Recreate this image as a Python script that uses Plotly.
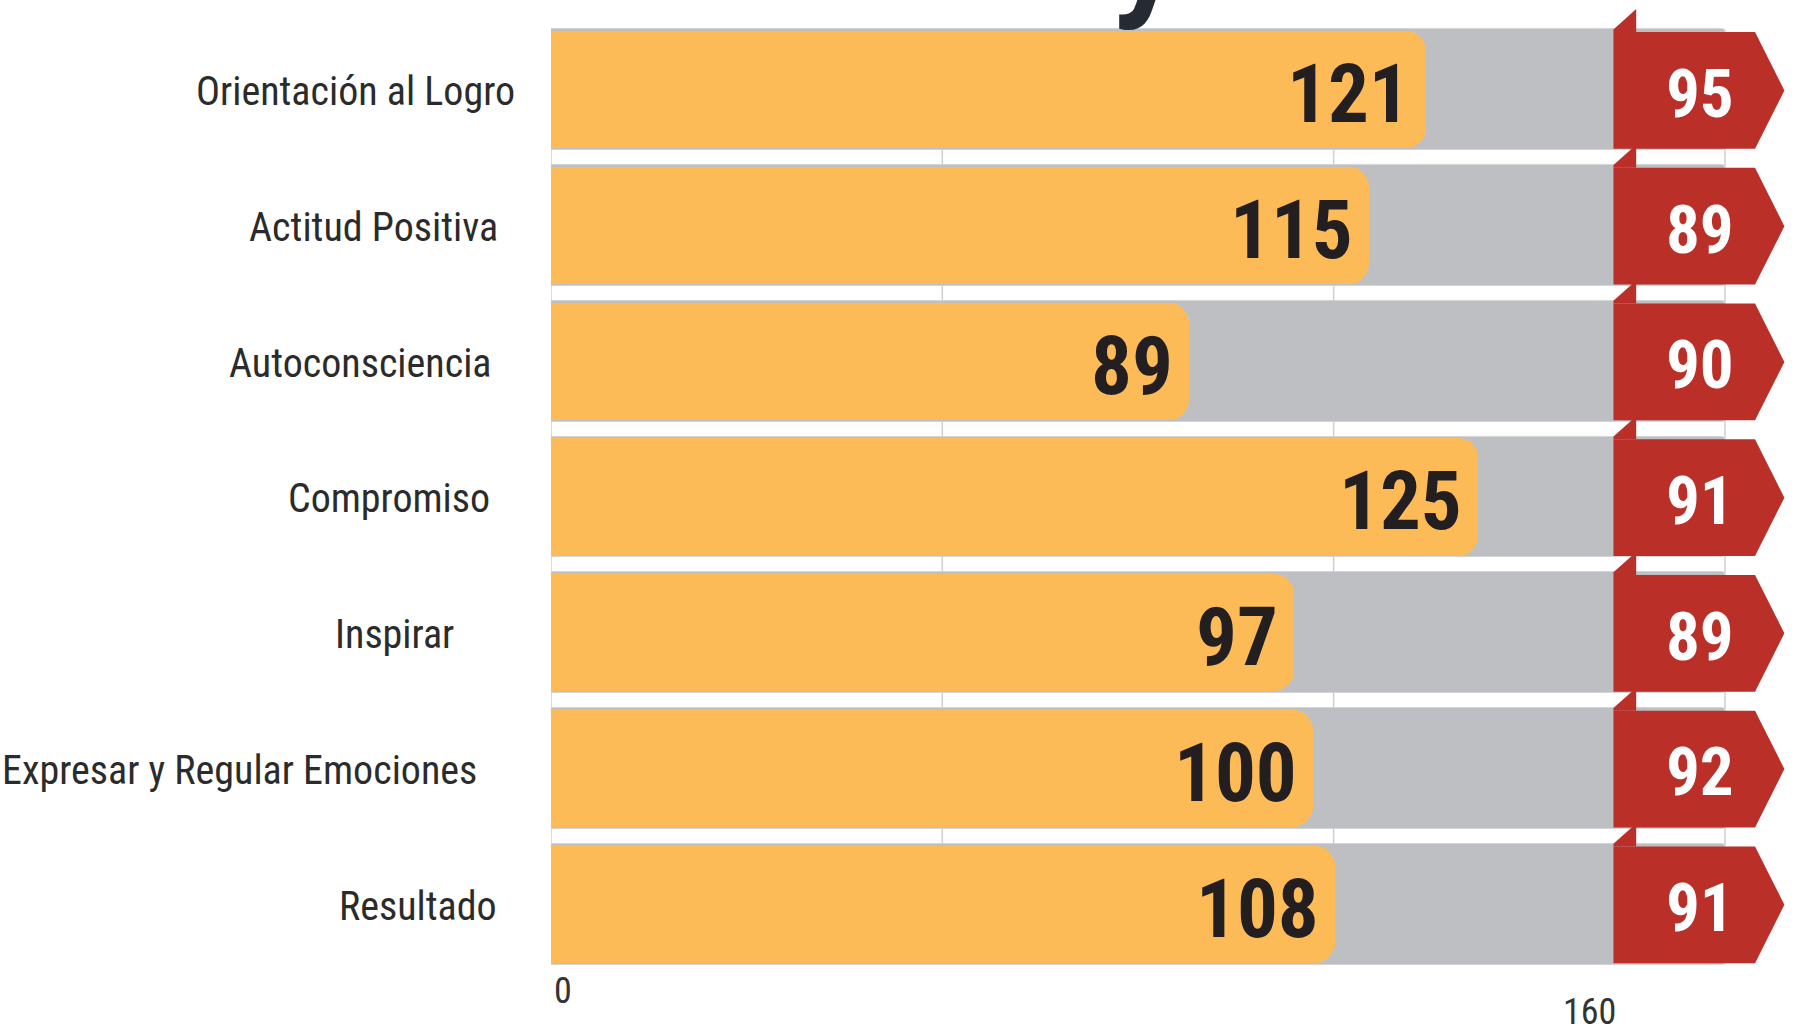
import plotly.graph_objects as go

# ---------------- data ----------------
categories = [
    "Orientación al Logro",
    "Actitud Positiva",
    "Autoconsciencia",
    "Compromiso",
    "Inspirar",
    "Expresar y Regular Emociones",
    "Resultado",
]
scores = [121, 115, 89, 125, 97, 100, 108]              # printed values
bar_lengths = [119.2, 111.5, 87.0, 126.3, 101.2, 103.9, 106.9]  # bar lengths
benchmark = [95, 89, 90, 91, 89, 92, 91]
scale_max = 160
axis_labels = ["0", "160"]
title_fragment = "y"

# ---------------- style ----------------
FONT = "'Roboto Condensed', 'DejaVu Sans Condensed', sans-serif"
ORANGE = "#FDBB58"
GRAY = "#BEBFC2"
RED = "#BA3028"
DARK = "#231F20"
GRID = "#CFCFCF"
label_pad = [0, 17, 24, 25, 61, 38, 18]   # extra right padding of category labels (px)

W, H = 1794, 1030
M_L, M_R, M_T, M_B = 551, 3, 4, 58
X_RANGE = [0, 169]
Y_RANGE = [6.5, -0.632]

n = len(categories)
ypos = list(range(n))

fig = go.Figure()

# background (full scale) bars on the base x axis
fig.add_trace(go.Bar(
    y=ypos, x=[scale_max] * n, orientation="h", width=0.89,
    marker=dict(color=GRAY, cornerradius=3, line=dict(color="#D3D4D6", width=1)),
    hoverinfo="skip", showlegend=False, xaxis="x",
))
# score bars on an overlaying twin axis (so they are rounded independently)
fig.add_trace(go.Bar(
    y=ypos, x=bar_lengths, orientation="h", width=0.864,
    marker=dict(color=ORANGE, cornerradius=20, line=dict(width=0)),
    customdata=scores,
    hovertemplate="%{customdata}<extra></extra>",
    showlegend=False, xaxis="x2",
))

shapes = []
# vertical grid lines (behind bars)
step = scale_max / 3
for k in range(4):
    gx = k * step
    shapes.append(dict(type="line", xref="x", yref="y", x0=gx, x1=gx,
                       y0=-0.445, y1=n - 1 + 0.445, layer="below",
                       line=dict(color=GRID, width=1.5)))

# red benchmark tags
bx0, bxf, bx1, bxt = 144.8, 147.9, 164.1, 168.1
for i in ypos:
    top, bot, mid = i - 0.425, i + 0.435, i + 0.005
    shapes.append(dict(
        type="path", xref="x", yref="y", layer="above",
        path=f"M {bx0},{top} L {bx1},{top} L {bxt},{mid} L {bx1},{bot} L {bx0},{bot} Z",
        fillcolor=RED, line=dict(width=0)))
    shapes.append(dict(
        type="path", xref="x", yref="y", layer="above",
        path=f"M {bx0},{top} L {bx0},{top - 0.02} L {bxf},{top - 0.17} L {bxf},{top} Z",
        fillcolor=RED, line=dict(width=0)))

annotations = []
# category labels
for i, (c, p) in enumerate(zip(categories, label_pad)):
    annotations.append(dict(
        text=c, xref="paper", x=0, yref="y", y=i, xanchor="right", yanchor="middle",
        xshift=-(34 + p), yshift=-2, showarrow=False,
        font=dict(family=FONT, size=40, color="#2B2B2B")))
# score values at the end of each bar
for i, (v, L) in enumerate(zip(scores, bar_lengths)):
    annotations.append(dict(
        text=str(v), xref="x", x=L, yref="y", y=i, xanchor="right", yanchor="middle",
        xshift=-14, yshift=-5, showarrow=False,
        font=dict(family=FONT, size=81, color=DARK, weight="bold")))
# benchmark values
for i, v in enumerate(benchmark):
    annotations.append(dict(
        text=str(v), xref="x", x=156.6, yref="y", y=i, xanchor="center", yanchor="middle",
        yshift=-4, showarrow=False,
        font=dict(family=FONT, size=67, color="white", weight="bold")))

plot_h = H - M_T - M_B
# axis end labels
annotations.append(dict(
    text=axis_labels[0], xref="x", x=0, yref="paper", y=-19.3 / plot_h,
    xanchor="left", yanchor="middle", xshift=1, showarrow=False,
    font=dict(family=FONT, size=36, color="#333333")))
annotations.append(dict(
    text=axis_labels[1], xref="x", x=bx0, yref="paper", y=-40.3 / plot_h,
    xanchor="right", yanchor="middle", xshift=5, showarrow=False,
    font=dict(family=FONT, size=36, color="#333333")))
# cut-off title fragment at the very top
annotations.append(dict(
    text=title_fragment, xref="paper", x=(1146 - M_L) / (W - M_L - M_R),
    yref="paper", y=1 - (36 - M_T) / plot_h, xanchor="center", yanchor="bottom",
    showarrow=False, font=dict(family="Roboto", size=140, color="#262A33", weight="bold")))

hidden_x = dict(range=X_RANGE, showgrid=False, zeroline=False, showticklabels=False,
                ticks="", showline=False, fixedrange=True)
fig.update_layout(
    width=W, height=H,
    margin=dict(l=M_L, r=M_R, t=M_T, b=M_B, pad=0),
    paper_bgcolor="white", plot_bgcolor="white",
    barmode="overlay", bargap=0,
    xaxis=hidden_x,
    xaxis2=dict(hidden_x, overlaying="x", side="bottom"),
    yaxis=dict(range=Y_RANGE, showgrid=False, zeroline=False, showticklabels=False,
               ticks="", showline=False, fixedrange=True),
    shapes=shapes, annotations=annotations,
    font=dict(family=FONT),
)

fig.write_html("out.html", config={"displayModeBar": False},
               post_script="document.body.style.margin='0';document.body.style.overflow='hidden';")
